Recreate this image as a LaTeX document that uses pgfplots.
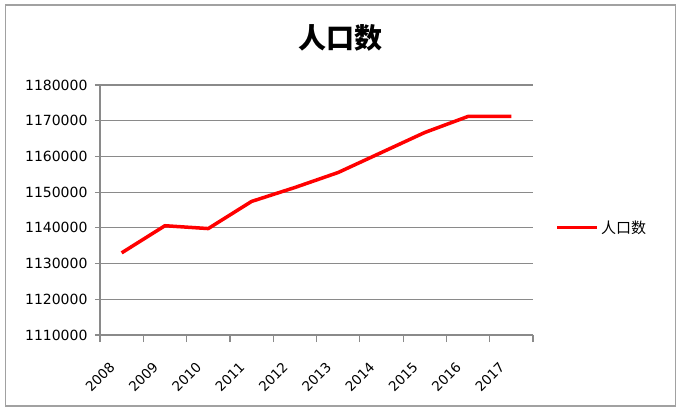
\documentclass[border=0pt]{standalone}
\usepackage{pgfplots}
\pgfplotsset{compat=1.18}
\usepackage{fontspec}
\setmainfont{DejaVu Sans}
\newfontfamily\cjk{Noto Sans CJK SC}
\definecolor{gridgray}{RGB}{138,138,138}
\begin{document}
\begin{tikzpicture}[x=1pt,y=1pt]
\path[use as bounding box] (0,0) rectangle (680,410);
\draw[color=gridgray!80, line width=1.5pt] (5.5,4) rectangle (675.5,405);
\node[font=\cjk\bfseries\fontsize{28}{30}\selectfont] at (340,372) {人口数};
\begin{axis}[at={(100pt,75pt)}, anchor=south west, scale only axis,
  width=433pt, height=250pt,
  xmin=-0.5, xmax=9.5, ymin=1110000, ymax=1180000,
  ytick={1110000,1120000,1130000,1140000,1150000,1160000,1170000,1180000},
  xtick={0,1,2,3,4,5,6,7,8,9},
  xticklabels={2008,2009,2010,2011,2012,2013,2014,2015,2016,2017},
  minor xtick={-0.5,0.5,1.5,2.5,3.5,4.5,5.5,6.5,7.5,8.5,9.5},
  axis x line=bottom, axis y line=left,
  axis line style={-, draw=gridgray, line width=1.2pt},
  ymajorgrids, major grid style={draw=gridgray, line width=1.2pt},
  tick align=outside,
  major x tick style={draw=none},
  minor x tick style={draw=gridgray, line width=1.2pt},
  major y tick style={draw=gridgray, line width=1.2pt},
  major tick length=5pt, minor tick length=7pt,
  scaled y ticks=false,
  yticklabel style={font=\fontsize{14}{14}\selectfont, xshift=-4pt,
    /pgf/number format/.cd, fixed, 1000 sep={}, assume math mode=true},
  xticklabel style={font=\fontsize{13.5}{14}\selectfont, xshift=-7pt, yshift=-22pt, rotate=45, anchor=east},
  legend style={at={(1.045,0.43)}, anchor=west, draw=none, fill=none,
    font=\cjk\fontsize{15}{17}\selectfont},
  legend image code/.code={\draw[#1, line width=3.5pt] (0pt,0pt) -- (40pt,0pt);},
]
\addplot[red, line width=3.5pt, line join=round, no markers] coordinates {
(0,1133000) (1,1140600) (2,1139800) (3,1147400) (4,1151300)
(5,1155500) (6,1161100) (7,1166700) (8,1171200) (9,1171200)
};
\addlegendentry{人口数}
\end{axis}
\end{tikzpicture}
\end{document}
